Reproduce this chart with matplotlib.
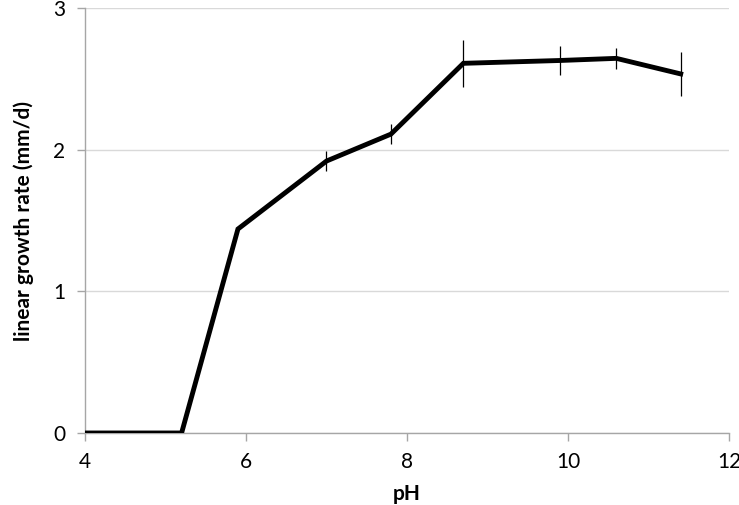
import numpy as np
import matplotlib
matplotlib.use('Agg')
import matplotlib.pyplot as plt

plt.rcParams['font.family'] = ['Lato', 'DejaVu Sans']

ph = [4.0, 5.2, 5.9, 7.0, 7.8, 8.7, 9.9, 10.6, 11.4]
rate = [0.0, 0.0, 1.44, 1.92, 2.11, 2.61, 2.63, 2.645, 2.535]
err = [0.0, 0.0, 0.0, 0.072, 0.073, 0.167, 0.10, 0.073, 0.156]

grey = '#a6a6a6'

fig = plt.figure(figsize=(7.39, 5.05), dpi=100)
ax = fig.add_axes([0.115, 0.1426, 0.8715, 0.8414])

ax.plot(ph, rate, color='black', lw=3.5, solid_joinstyle='miter', zorder=3)
ax.errorbar(ph, rate, yerr=err, fmt='none', ecolor='black', elinewidth=0.9, capsize=0, zorder=4)

ax.set_xlim(4, 12)
ax.set_ylim(0, 3)
ax.set_xticks([4, 6, 8, 10, 12])
ax.set_yticks([0, 1, 2, 3])
ax.yaxis.grid(True, color='#d9d9d9', lw=1)
ax.set_axisbelow(True)

for s in ['top', 'right']:
    ax.spines[s].set_visible(False)
for s in ['left', 'bottom']:
    ax.spines[s].set_color(grey)
    ax.spines[s].set_linewidth(1)
ax.tick_params(colors=grey, length=6, width=1, labelcolor='black', labelsize=15)
ax.tick_params(axis='x', pad=8)
ax.tick_params(axis='y', pad=8)

ax.set_xlabel('pH', fontsize=15, fontweight='bold', labelpad=8)
ax.set_ylabel('linear growth rate (mm/d)', fontsize=15, fontweight='bold', labelpad=14)

fig.savefig('out.png', dpi=100)
